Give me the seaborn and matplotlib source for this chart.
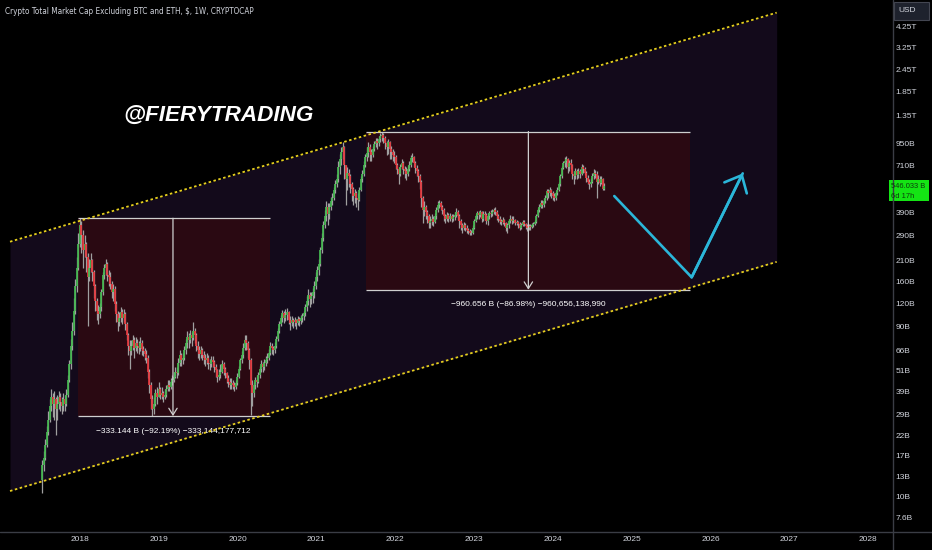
import numpy as np
import pandas as pd
import matplotlib
matplotlib.use("Agg")
import matplotlib.pyplot as plt
from matplotlib.lines import Line2D
from matplotlib.patches import Rectangle
import seaborn as sns

# --------------------------------
# DATA (weekly candles, billions USD)
# --------------------------------

first_date = "2017-07-10"
first_open = 12.4

c2017 = [15, 16.5, 19.5, 23, 27, 32, 36, 33, 35, 31, 33, 36, 34, 32, 35, 33, 37, 45, 55, 70, 85, 110, 150, 190, 260]
h2017 = [16, 18, 21, 25, 30, 35, 40, 38, 39, 36, 37, 39, 38, 36, 38, 37, 40, 48, 58, 76, 95, 130, 165, 220, 300]
l2017 = [10.5, 14, 16, 19, 22, 26, 30, 28, 27, 22, 27, 31, 30, 29, 30, 30, 32, 36, 44, 52, 66, 80, 105, 140, 185]

c2018 = [330, 290, 240, 260, 220, 170, 190, 210, 180, 150, 125, 110, 105, 115, 140, 175, 190, 200, 175, 170,
         155, 140, 145, 120, 105, 95, 100, 108, 100, 105, 92, 80, 70, 65, 70, 75, 68, 72, 70, 68,
         72, 67, 65, 63, 60, 50, 42, 35, 31, 33, 38, 36]
h2018 = [361, 350, 310, 290, 265, 230, 215, 230, 215, 185, 155, 130, 118, 122, 145, 180, 200, 215, 205, 185,
         180, 160, 155, 150, 125, 110, 108, 115, 112, 112, 108, 95, 82, 75, 75, 80, 78, 78, 76, 74,
         78, 75, 70, 68, 66, 62, 52, 44, 37, 36, 40, 41]
l2018 = [250, 230, 190, 220, 180, 90, 160, 180, 160, 130, 110, 97, 92, 100, 110, 135, 165, 175, 160, 150,
         145, 130, 125, 110, 95, 85, 90, 95, 92, 95, 86, 75, 62, 52, 62, 66, 60, 65, 64, 63,
         65, 62, 61, 58, 56, 46, 38, 31, 28.2, 29, 32, 33]

c2019 = [40, 37, 38, 36, 37, 40, 42, 41, 44, 45, 47, 50, 49, 56, 62, 58, 60, 66, 72, 78,
         75, 80, 77, 84, 80, 70, 66, 63, 66, 62, 60, 58, 60, 56, 55, 58, 57, 53, 51, 47,
         48, 50, 55, 52, 49, 46, 44, 42, 43, 42, 41, 43]
h2019 = [44, 41, 41, 39, 40, 42, 45, 45, 46, 48, 50, 53, 53, 60, 66, 64, 64, 70, 76, 84,
         82, 86, 83, 95, 88, 82, 74, 70, 70, 68, 65, 63, 64, 62, 59, 61, 61, 58, 55, 52,
         52, 55, 58, 57, 53, 50, 48, 46, 46, 45, 44, 45]
l2019 = [36, 35, 35, 34, 35, 36, 39, 39, 40, 42, 44, 46, 46, 48, 54, 54, 55, 58, 63, 68,
         68, 72, 70, 75, 72, 65, 60, 58, 60, 58, 55, 54, 55, 52, 51, 53, 53, 50, 47, 44,
         45, 46, 49, 48, 46, 43, 41, 40, 40, 40, 39, 40]

c2020 = [47, 52, 58, 62, 68, 75, 72, 66, 58, 42, 38, 42, 45, 44, 48, 52, 55, 53, 56, 58,
         60, 64, 70, 68, 66, 70, 76, 84, 92, 100, 106, 100, 104, 108, 98, 94, 98, 95, 97, 94,
         99, 96, 100, 103, 106, 115, 125, 135, 128, 132, 140, 150]
h2020 = [49, 54, 60, 65, 72, 80, 80, 74, 68, 60, 45, 44, 47, 48, 50, 54, 58, 57, 59, 61,
         64, 67, 73, 72, 70, 73, 79, 88, 96, 104, 111, 110, 112, 114, 110, 102, 102, 100, 101, 99,
         102, 101, 104, 107, 110, 120, 132, 145, 140, 140, 148, 160]
l2020 = [42, 46, 51, 56, 60, 66, 66, 60, 52, 28.5, 32, 36, 40, 41, 43, 46, 50, 50, 51, 54,
         56, 58, 62, 63, 62, 64, 68, 74, 82, 90, 95, 94, 96, 98, 92, 86, 90, 88, 90, 87,
         91, 90, 93, 95, 98, 102, 110, 118, 115, 120, 122, 130]

c2021 = [170, 185, 200, 240, 280, 330, 370, 420, 380, 420, 450, 470, 520, 560, 600, 700, 780, 850, 900, 720,
         600, 650, 620, 560, 530, 480, 500, 470, 460, 520, 600, 640, 720, 800, 840, 900, 850, 820, 880, 940,
         980, 950, 1000, 1040, 1060, 1020, 950, 900, 960, 880, 850, 820]
h2021 = [180, 195, 215, 250, 300, 350, 400, 450, 440, 440, 475, 500, 540, 590, 640, 760, 830, 900, 960, 920,
         720, 700, 680, 640, 580, 540, 530, 510, 500, 540, 620, 670, 760, 830, 900, 960, 940, 880, 920, 980,
         1020, 1010, 1040, 1080, 1104, 1090, 1040, 980, 1000, 980, 920, 880]
l2021 = [145, 160, 175, 195, 230, 270, 320, 350, 330, 360, 400, 430, 460, 500, 540, 580, 640, 720, 780, 600,
         430, 520, 540, 500, 450, 430, 440, 420, 400, 450, 510, 580, 620, 700, 760, 800, 760, 760, 800, 860,
         900, 880, 920, 960, 980, 950, 880, 820, 830, 780, 780, 760]

c2022 = [800, 720, 680, 640, 700, 740, 680, 660, 640, 680, 720, 790, 800, 740, 690, 660, 620, 580, 470, 400,
         420, 390, 370, 340, 350, 360, 345, 370, 400, 430, 440, 420, 400, 370, 360, 375, 360, 370, 360, 365,
         375, 390, 370, 350, 330, 320, 330, 320, 310, 305, 300, 298]
h2022 = [860, 820, 740, 700, 730, 780, 760, 710, 700, 720, 760, 820, 840, 810, 760, 720, 680, 640, 590, 480,
         450, 430, 400, 380, 370, 380, 370, 385, 420, 450, 460, 450, 430, 410, 380, 390, 385, 385, 380, 380,
         390, 410, 400, 380, 360, 340, 345, 340, 330, 320, 315, 310]
l2022 = [740, 680, 640, 560, 620, 680, 640, 610, 590, 620, 660, 700, 750, 700, 650, 620, 580, 530, 420, 340,
         370, 360, 340, 320, 320, 330, 325, 340, 360, 390, 410, 400, 380, 350, 340, 350, 345, 350, 345, 350,
         355, 365, 355, 320, 310, 300, 310, 305, 300, 295, 290, 290]

c2023 = [320, 350, 370, 385, 375, 390, 360, 380, 375, 350, 370, 385, 380, 390, 400, 390, 370, 360, 350, 345,
         355, 340, 320, 330, 350, 360, 350, 355, 340, 345, 335, 320, 330, 345, 335, 325, 318, 328, 322, 330,
         335, 345, 370, 400, 420, 440, 430, 450, 470, 510, 500, 520]
h2023 = [330, 360, 380, 395, 395, 400, 395, 395, 395, 385, 385, 395, 400, 405, 410, 415, 400, 380, 370, 360,
         365, 360, 345, 340, 360, 375, 370, 370, 360, 355, 350, 345, 340, 355, 355, 340, 335, 335, 335, 340,
         345, 355, 380, 410, 435, 460, 455, 470, 490, 530, 530, 540]
l2023 = [295, 315, 345, 360, 360, 365, 345, 350, 355, 335, 330, 360, 365, 370, 380, 375, 355, 345, 335, 330,
         335, 325, 305, 300, 320, 340, 335, 340, 330, 330, 320, 310, 315, 325, 325, 315, 308, 312, 312, 318,
         322, 330, 340, 365, 390, 410, 410, 420, 440, 460, 470, 480]

c2024 = [500, 480, 470, 500, 520, 560, 620, 690, 740, 760, 780, 700, 740, 720, 640, 620, 660, 630, 660, 640,
         700, 680, 650, 610, 580, 560, 580, 620, 650, 640, 580, 600, 570, 600, 530, 546.033]
h2024 = [530, 510, 500, 515, 540, 580, 640, 710, 760, 800, 810, 790, 770, 780, 730, 660, 690, 680, 690, 680,
         730, 720, 700, 660, 630, 600, 610, 650, 680, 670, 660, 630, 620, 620, 610, 570]
l2024 = [470, 460, 450, 460, 490, 510, 550, 610, 680, 700, 690, 650, 660, 680, 600, 560, 600, 600, 610, 610,
         630, 650, 630, 580, 560, 530, 540, 570, 600, 610, 470, 560, 550, 560, 520, 520]

# channel (decimal year, billions)
chan_x = [2017.112, 2026.841]
chan_upper = [267, 5110]
chan_lower = [10.75, 206]

# drawdown boxes
box_left = [2017.975, 2021.63]
box_right = [2020.41, 2025.74]
box_mid = [2019.18, 2023.69]
box_top = [361.37, 1104.5]
box_bottom = [28.23, 143.85]
box_labels = ["\u2212333.144 B (\u221292.19%) \u2212333,144,177,712",
              "\u2212960.656 B (\u221286.98%) \u2212960,656,138,990"]

# projected path
path_x = [2024.78, 2025.762, 2026.41]
path_y = [481, 168.8, 644]

year_ticks = list(range(2018, 2029))
price_ticks = [7.6, 10, 13, 17, 22, 29, 39, 51, 66, 90, 120, 160, 210, 290, 390,
               710, 950, 1350, 1850, 2450, 3250, 4250]
price_labels = ["7.6B", "10B", "13B", "17B", "22B", "29B", "39B", "51B", "66B", "90B", "120B",
                "160B", "210B", "290B", "390B", "710B", "950B", "1.35T", "1.85T", "2.45T",
                "3.25T", "4.25T"]

# --------------------------------
# PREP
# --------------------------------

close = np.array(c2017 + c2018 + c2019 + c2020 + c2021 + c2022 + c2023 + c2024)
high = np.array(h2017 + h2018 + h2019 + h2020 + h2021 + h2022 + h2023 + h2024)
low = np.array(l2017 + l2018 + l2019 + l2020 + l2021 + l2022 + l2023 + l2024)
opn = np.concatenate([[first_open], close[:-1]])

dates = pd.date_range(first_date, periods=len(close), freq="7D")
xs = dates.year + (dates.dayofyear - 1) / 365.25

df = pd.DataFrame({"x": xs, "open": opn, "close": close, "high": high, "low": low})
df["up"] = df["close"] >= df["open"]

# --------------------------------
# STYLE
# --------------------------------

sns.set_theme(style="dark")
plt.rcParams["font.family"] = ["Liberation Sans", "DejaVu Sans"]
narrow = dict(family=["DejaVu Sans"], fontstretch="condensed")

txt = "#d1d4dc"
sep = "#3a3d45"

fig = plt.figure(figsize=(9.32, 5.5), dpi=100, facecolor="black")
ax = fig.add_axes([0, 18 / 550, 893 / 932, 532 / 550])
ax.set_facecolor("black")
ax.set_yscale("log")
ax.set_xlim(2016.985, 2028.317)
ax.set_ylim(6.34, 6014)
ax.grid(False)
for s in ax.spines.values():
    s.set_visible(False)

# channel
ax.fill_between(chan_x, chan_lower, chan_upper, color="#130a1b", lw=0, zorder=0)
for yy in (chan_upper, chan_lower):
    sns.lineplot(x=chan_x, y=yy, ax=ax, color="#e6cf1e", lw=1.3,
                 linestyle=(0, (1.4, 1.4)), zorder=5)

# boxes
for i in range(2):
    ax.fill_between([box_left[i], box_right[i]], [box_bottom[i]] * 2, [box_top[i]] * 2,
                    color="#2a0912", lw=0, zorder=1)
    ax.hlines([box_top[i], box_bottom[i]], box_left[i], box_right[i],
              color="#cfcfcf", lw=0.9, zorder=4)
    ax.annotate("", xy=(box_mid[i], box_bottom[i]), xytext=(box_mid[i], box_top[i]),
                arrowprops=dict(arrowstyle="->,head_length=0.4,head_width=0.25",
                                color="#cfcfcf", lw=0.9, shrinkA=0, shrinkB=0),
                zorder=4)
    ax.annotate(box_labels[i], xy=(box_mid[i], box_bottom[i]), xytext=(0, -11),
                textcoords="offset points", ha="center", va="center",
                color="white", fontsize=6.0)

# candles
ax.vlines(df["x"], df["low"], df["high"], color="#a0a0a0", lw=0.9, zorder=3)
body_lo = df[["open", "close"]].min(axis=1)
body_hi = df[["open", "close"]].max(axis=1)
ax.vlines(df["x"], body_lo, body_hi,
          colors=np.where(df["up"], "#43b84f", "#e8363c"), lw=1.25, zorder=3)

# projected path
sns.lineplot(x=path_x, y=path_y, ax=ax, color="#2bb6d9", lw=1.9, sort=False, zorder=6)
ax.annotate("", xy=(path_x[2], path_y[2]), xytext=(path_x[1], path_y[1]),
            arrowprops=dict(arrowstyle="->,head_length=0.85,head_width=0.75",
                            color="#2bb6d9", lw=1.9, shrinkA=0, shrinkB=0),
            zorder=6)

# watermark
ax.text(0.1377, 0.7838, "@FIERYTRADING", transform=ax.transAxes, fontsize=16.2,
        fontweight="bold", fontstyle="italic", color="white", va="center", ha="left")

# axes ticks
ax.yaxis.tick_right()
ax.set_yticks(price_ticks)
ax.set_yticklabels(price_labels)
ax.yaxis.set_minor_locator(matplotlib.ticker.NullLocator())
ax.set_xticks(year_ticks)
ax.set_xticklabels([str(y) for y in year_ticks])
ax.tick_params(axis="y", length=0, pad=2, labelsize=6, labelcolor=txt)
ax.tick_params(axis="x", length=0, pad=3, labelsize=6, labelcolor=txt)
ax.set_xlabel("")
ax.set_ylabel("")

# separators
fig.add_artist(Line2D([0, 1], [18 / 550, 18 / 550], color=sep, lw=1,
                      transform=fig.transFigure))
fig.add_artist(Line2D([893 / 932, 893 / 932], [0, 1], color=sep, lw=1,
                      transform=fig.transFigure))

# title
fig.text(5 / 932, 1 - 11 / 550, "Crypto Total Market Cap Excluding BTC and ETH, $, 1W, CRYPTOCAP",
         color=txt, fontsize=5.9, va="center", ha="left", **narrow)

# USD box
fig.add_artist(Rectangle((894 / 932, 530 / 550), 35 / 932, 18 / 550, transform=fig.transFigure,
                         facecolor="#1e222d", edgecolor="#434651", lw=0.8))
fig.text(898 / 932, 539 / 550, "USD", color=txt, fontsize=6, va="center", ha="left")

# last price tag
py = ax.transData.transform((2020, close[-1]))[1]
fig.add_artist(Rectangle((889 / 932, (py - 15) / 550), 40 / 932, 21 / 550,
                         transform=fig.transFigure, facecolor="#14e414", edgecolor="none"))
fig.text(891 / 932, py / 550, f"{close[-1]:.3f} B", color="#0c3a0c", fontsize=5.4,
         va="center", ha="left")
fig.text(891 / 932, (py - 10) / 550, "6d 17h", color="#0c3a0c", fontsize=5.4,
         va="center", ha="left")

plt.savefig("out.png", dpi=100, facecolor="black")
